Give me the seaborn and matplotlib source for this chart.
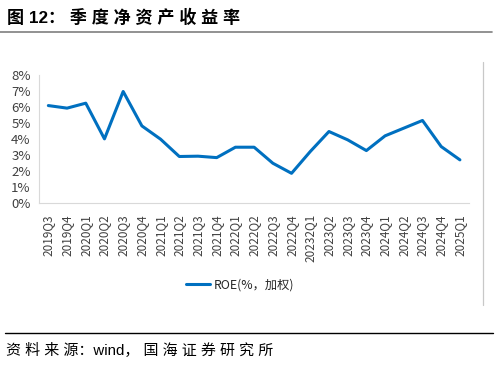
import numpy as np
import pandas as pd
import seaborn as sns
import matplotlib.pyplot as plt
from matplotlib.lines import Line2D

quarters = ["2019Q3", "2019Q4", "2020Q1", "2020Q2", "2020Q3", "2020Q4",
            "2021Q1", "2021Q2", "2021Q3", "2021Q4", "2022Q1", "2022Q2",
            "2022Q3", "2022Q4", "20232Q1", "2023Q2", "2023Q3", "2023Q4",
            "2024Q1", "2024Q2", "2024Q3", "2024Q4", "2025Q1"]
roe = [6.08, 5.92, 6.23, 4.00, 6.96, 4.81, 3.98, 2.90, 2.92, 2.83, 3.48, 3.48,
       2.48, 1.85, 3.21, 4.46, 3.94, 3.27, 4.19, 4.67, 5.15, 3.52, 2.69]
y_ticks = [0, 1, 2, 3, 4, 5, 6, 7, 8]

title = "图 12： 季 度 净 资 产 收 益 率"
legend_label = "ROE(%，加权)"
source = "资 料 来 源：wind， 国 海 证 券 研 究 所"

sns.set_style("white")
plt.rcParams['font.family'] = ['Noto Sans CJK SC', 'DejaVu Sans']

df = pd.DataFrame({"quarter": quarters, "roe": roe})

fig = plt.figure(figsize=(4.98, 3.65), dpi=100)
ax = fig.add_axes([0.0783, 0.444, 0.864, 0.351])

sns.lineplot(data=df, x="quarter", y="roe", ax=ax, color="#0070C0",
             linewidth=2.2, sort=False, legend=False)

n = len(quarters)
ax.set_xlim(-0.5, n - 0.5)
ax.set_ylim(0, 8)
ax.set_yticks(y_ticks)
ax.set_yticklabels([f"{v}%" for v in y_ticks], fontsize=9.5, color="#404040")
ax.set_xticks(range(n))
ax.set_xticklabels(quarters, rotation=90, fontsize=8.5, color="#404040")
ax.set_xticks(np.arange(-0.5, n, 1), minor=True)
ax.tick_params(axis="x", which="major", length=0, pad=8)
ax.tick_params(axis="x", which="minor", length=5, color="#d9d9d9", width=0.8)
ax.tick_params(axis="y", length=4, color="#d9d9d9", width=0.8, pad=2)
ax.set_xlabel("")
ax.set_ylabel("")
for s in ["top", "right"]:
    ax.spines[s].set_visible(False)
for s in ["left", "bottom"]:
    ax.spines[s].set_color("#d9d9d9")
    ax.spines[s].set_linewidth(0.8)

handle = Line2D([0], [0], color="#0070C0", linewidth=2.2)
fig.legend([handle], [legend_label], loc="center", bbox_to_anchor=(0.482, 1 - 285 / 365),
           frameon=False, fontsize=8.8, handlelength=2.0, handletextpad=0.3)

fig.text(0.014, 1 - 17 / 365, title, fontsize=12.3, fontweight="bold",
         va="center", ha="left", color="#000000",
         family=['Liberation Sans', 'Noto Sans CJK SC'])
fig.add_artist(Line2D([0.0, 0.988], [1 - 32 / 365] * 2, color="#7f7f7f", linewidth=1.2))
fig.add_artist(Line2D([0.97, 0.97], [1 - 62 / 365, 1 - 305 / 365], color="#c8c8c8", linewidth=0.9))
fig.add_artist(Line2D([0.01, 0.99], [1 - 333 / 365] * 2, color="#000000", linewidth=1.0))
fig.text(0.012, 1 - 351 / 365, source, fontsize=10.8, va="center", ha="left", color="#000000",
         family=['Liberation Sans', 'Noto Sans CJK SC'])

fig.savefig("out.png", dpi=100)
